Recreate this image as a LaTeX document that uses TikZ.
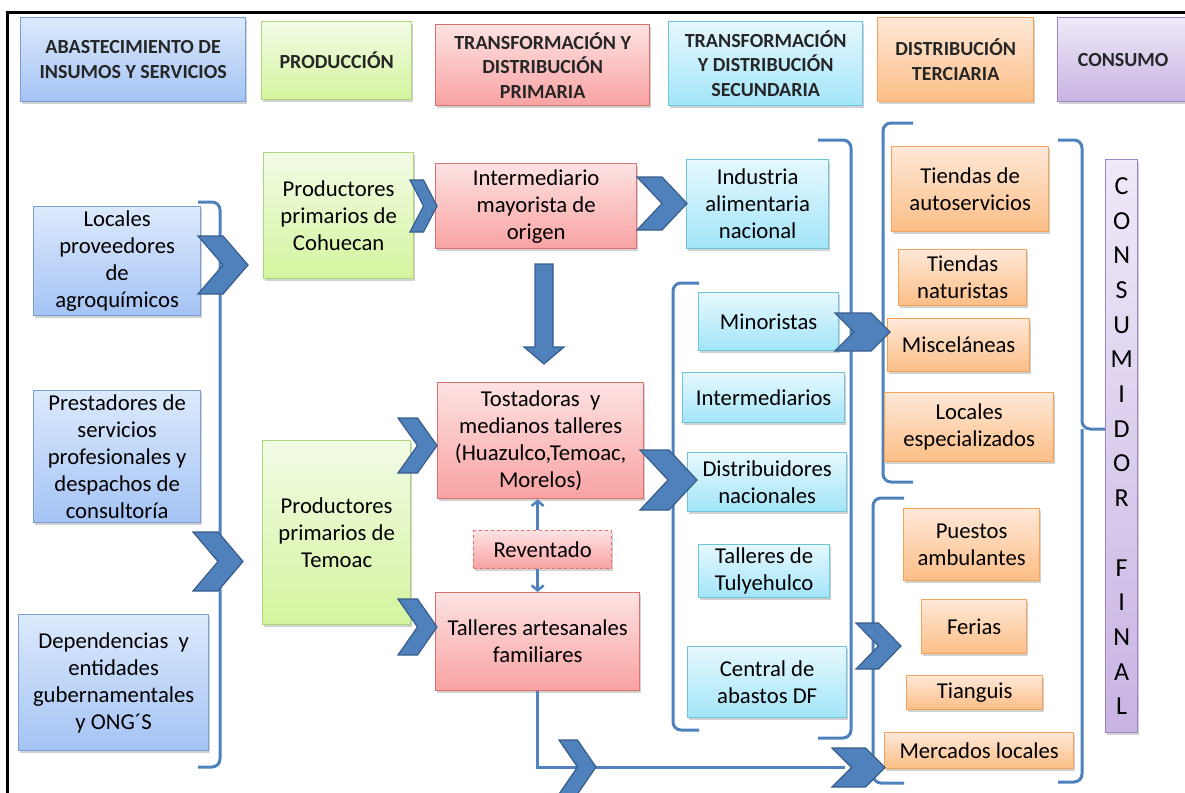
\documentclass[tikz,border=0pt]{standalone}
\usepackage{fontspec}
\setmainfont{Carlito}
\usetikzlibrary{shadows,arrows.meta}

\definecolor{CBlue}{HTML}{4F81BD}
\definecolor{CBlueD}{HTML}{385D8A}
\definecolor{HeadText}{HTML}{262626}
\definecolor{BlueTop}{HTML}{DCE9FC}
\definecolor{BlueBot}{HTML}{A4C3F4}
\definecolor{BlueLine}{HTML}{7A9ED6}
\definecolor{GreenTop}{HTML}{F2FBE6}
\definecolor{GreenBot}{HTML}{D5F49E}
\definecolor{GreenLine}{HTML}{ADD67C}
\definecolor{RedTop}{HTML}{FDE2E2}
\definecolor{RedBot}{HTML}{F9A2A2}
\definecolor{RedLine}{HTML}{D9716F}
\definecolor{CyanTop}{HTML}{E6F8FE}
\definecolor{CyanBot}{HTML}{A2E5F9}
\definecolor{CyanLine}{HTML}{6EC4DC}
\definecolor{OrangeTop}{HTML}{FEE8D8}
\definecolor{OrangeBot}{HTML}{FCBE86}
\definecolor{OrangeLine}{HTML}{F5A25A}
\definecolor{PurpleTop}{HTML}{EFE9F8}
\definecolor{PurpleBot}{HTML}{C8B3E3}
\definecolor{PurpleLine}{HTML}{9D86C5}

\tikzset{
  box/.style={draw, line width=1.3, anchor=north west, align=center, inner sep=2, text=black,
    font=\fontsize{22.7}{27}\selectfont,
    drop shadow={shadow xshift=1.5pt, shadow yshift=-2pt, opacity=0.3, fill=black!60}},
  hbox/.style={box, text=HeadText, font=\fontsize{20}{24.5}\selectfont\bfseries},
  cblue/.style={draw=BlueLine, top color=BlueTop, bottom color=BlueBot},
  cgreen/.style={draw=GreenLine, top color=GreenTop, bottom color=GreenBot},
  cred/.style={draw=RedLine, top color=RedTop, bottom color=RedBot},
  ccyan/.style={draw=CyanLine, top color=CyanTop, bottom color=CyanBot},
  corange/.style={draw=OrangeLine, top color=OrangeTop, bottom color=OrangeBot},
  cpurple/.style={draw=PurpleLine, top color=PurpleTop, bottom color=PurpleBot},
  chev/.style={fill=CBlue, draw=CBlueD, line width=1.2, line join=miter},
  brk/.style={draw=CBlue, line width=3, rounded corners=8},
  flow/.style={draw=CBlue, line width=3},
  revarrow/.style={draw=CBlue, line width=2.5, -{Straight Barb[length=5pt,width=12pt]}}
}

% x, y, ancho, alto, punta
\newcommand{\chevron}[5]{%
  \filldraw[chev] (#1,#2) -- ++(#3-#5,0) -- ++(#5,#4/2) -- ++(-#5,#4/2) -- ++(#5-#3,0) -- ++(#5,-#4/2) -- cycle;}

\begin{document}
\begin{tikzpicture}[x=1pt,y=-1pt]
\useasboundingbox (0,0) rectangle (1185,792);
\draw[line width=3] (1190,13) -- (7,13) -- (7,800);

% encabezados
\node[hbox, cblue, minimum width=225, minimum height=84] (h1) at (20,17) {ABASTECIMIENTO DE\\INSUMOS Y SERVICIOS};
\node[hbox, cgreen, minimum width=150, minimum height=78] (h2) at (261,21) {PRODUCCIÓN};
\node[hbox, cred, minimum width=214, minimum height=81] (h3) at (435,24) {TRANSFORMACIÓN Y\\DISTRIBUCIÓN\\PRIMARIA};
\node[hbox, ccyan, minimum width=194, minimum height=84] (h4) at (668,21) {TRANSFORMACIÓN\\Y DISTRIBUCIÓN\\SECUNDARIA};
\node[hbox, corange, minimum width=156, minimum height=84] (h5) at (877,17) {DISTRIBUCIÓN\\TERCIARIA};
\node[hbox, cpurple, minimum width=131, minimum height=84] (h6) at (1057,17) {CONSUMO};

% llaves
\draw[brk] (198,202) -- (220,202) -- (220,767) -- (198,767);
\draw[brk] (699,283) -- (673,283) -- (673,730) -- (699,730);
\draw[brk] (818,140) -- (851,140) -- (851,738) -- (818,738);
\draw[brk] (913,123) -- (883,123) -- (883,482) -- (913,482);
\draw[brk] (904,498) -- (873,498) -- (873,783) -- (904,783);
\draw[brk] (1058,140) -- (1082,140) -- (1082,429) -- (1106,429);
\draw[brk] (1082,429) -- (1082,782) -- (1058,782);

% insumos
\node[box, cblue, minimum width=167, minimum height=109] (loc) at (33,206) {Locales\\proveedores\\de\\agroquímicos};
\node[box, cblue, minimum width=167, minimum height=132] (pres) at (33,390) {Prestadores de\\servicios\\profesionales y\\despachos de\\consultoría};
\node[box, cblue, minimum width=190, minimum height=136] (dep) at (18,614) {Dependencias~ y\\entidades\\gubernamentales\\y ONG´S};

% produccion
\node[box, cgreen, minimum width=150, minimum height=126] (coh) at (263,152) {Productores\\primarios de\\Cohuecan};
\node[box, cgreen, minimum width=148, minimum height=184] (tem) at (262,440) {Productores\\primarios de\\Temoac};

% primaria
\node[box, cred, minimum width=201, minimum height=85] (inter) at (435,163) {Intermediario\\mayorista de\\origen};
\node[box, cred, minimum width=206, minimum height=116] (tost) at (437,382) {Tostadoras~ y\\medianos talleres\\(Huazulco,Temoac,\\Morelos)};
\node[box, cred, dashed, minimum width=138, minimum height=38] (rev) at (473,530) {Reventado};
\node[box, cred, minimum width=204, minimum height=98] (tall) at (435,592) {Talleres artesanales\\familiares};

% secundaria
\node[box, ccyan, minimum width=142, minimum height=89] (ind) at (686,159) {Industria\\alimentaria\\nacional};
\node[box, ccyan, minimum width=140, minimum height=58] (mino) at (698,292) {Minoristas};
\node[box, ccyan, minimum width=162, minimum height=50] (intd) at (682,372) {Intermediarios};
\node[box, ccyan, minimum width=159, minimum height=59] (dist) at (687,452) {Distribuidores\\nacionales};
\node[box, ccyan, minimum width=131, minimum height=53] (tuly) at (698,544) {Talleres de\\Tulyehulco};
\node[box, ccyan, minimum width=159, minimum height=71] (cent) at (687,646) {Central de\\abastos DF};

% terciaria
\node[box, corange, minimum width=157, minimum height=85] (tien) at (891,146) {Tiendas de\\autoservicios};
\node[box, corange, minimum width=128, minimum height=56] (nat) at (898,249) {Tiendas\\naturistas};
\node[box, corange, minimum width=142, minimum height=53] (misc) at (887,318) {Misceláneas};
\node[box, corange, minimum width=169, minimum height=69] (esp) at (884,392) {Locales\\especializados};
\node[box, corange, minimum width=136, minimum height=72] (amb) at (903,508) {Puestos\\ambulantes};
\node[box, corange, minimum width=105, minimum height=54] (fer) at (921,599) {Ferias};
\node[box, corange, minimum width=136, minimum height=34] (tian) at (906,675) {Tianguis};
\node[box, corange, minimum width=189, minimum height=36] (merc) at (884,732) {Mercados locales};

% consumo
\node[box, cpurple, font=\fontsize{26}{34.7}\selectfont, minimum width=32, minimum height=573, inner sep=0] (cons) at (1105,159)
  {C\\O\\N\\S\\U\\M\\I\\D\\O\\R\\[34.7pt]F\\I\\N\\A\\L};

% flechas
\draw[revarrow] (rev.north -| tall.south) -- (tost.south -| tall.south);
\draw[revarrow] (rev.south -| tall.south) -- (tall.north);
\coordinate (mkin) at (845,767);
\draw[flow] (tall.south) |- (mkin);
\filldraw[chev] (535,264) -- (553,264) -- (553,347) -- (564,347) -- (544,364) -- (524,347) -- (535,347) -- cycle;

\chevron{198}{236}{50}{58}{25}
\chevron{193}{532}{50}{59}{25}
\chevron{410}{180}{27}{52}{13.5}
\chevron{637}{177}{50}{53}{25}
\chevron{398}{418}{39}{55}{19.5}
\chevron{398}{599}{39}{56}{19.5}
\chevron{640}{450}{57}{60}{28}
\chevron{835}{313}{55}{38}{19}
\chevron{559}{740}{37}{54}{18.5}
\chevron{832}{748}{53}{39}{19.5}
\chevron{856}{623}{45}{46}{22.5}

\end{tikzpicture}
\end{document}
